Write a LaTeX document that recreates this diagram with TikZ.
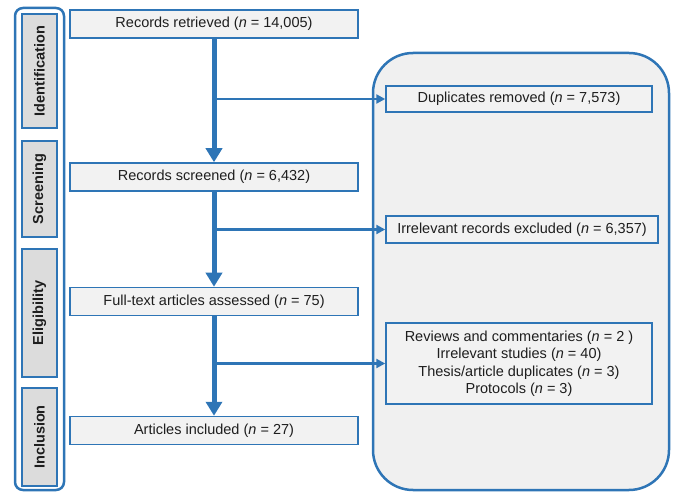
\documentclass[tikz,border=0pt]{standalone}
\usepackage{fontspec}
\setmainfont{Liberation Sans}
\usetikzlibrary{arrows.meta}
\definecolor{pblue}{RGB}{46,117,182}
\definecolor{boxfill}{RGB}{242,242,242}
\definecolor{phasefill}{RGB}{220,220,220}
\definecolor{bigfill}{RGB}{240,240,240}
\definecolor{txt}{RGB}{30,30,30}
\newcommand\nn{\textit{n}}
\begin{document}
\begin{tikzpicture}[x=1pt,y=-1pt,
  font=\fontsize{14.5}{17.5}\selectfont, text=txt,
  mainbox/.style={draw=pblue, line width=1.5pt, fill=boxfill, minimum width=288pt, minimum height=28pt, inner sep=0pt},
  sidebox/.style={draw=pblue, line width=1.5pt, fill=boxfill, minimum height=26pt, inner sep=0pt},
  phasebox/.style={draw=pblue, line width=1.5pt, fill=phasefill, rotate=90, minimum height=35pt, inner sep=0pt, font=\fontsize{14.5}{17.5}\selectfont\bfseries},
  flow/.style={draw=pblue, line width=5pt, -{Triangle[width=16pt,length=14pt]}},
  branch/.style={draw=pblue, line width=2.5pt, -{Triangle[width=9pt,length=9pt]}}
]
\useasboundingbox (0,0) rectangle (673,492);
% outer containers
\draw[pblue, line width=2.5pt, rounded corners=8pt] (15,8) rectangle (64,490);
\draw[pblue, line width=2.5pt, fill=bigfill, rounded corners=40pt] (373,53) rectangle (669,490);
% phase labels
\node[phasebox, minimum width=114pt] (pid) at (39.5,71) {Identification};
\node[phasebox, minimum width=96pt] (psc) at (39.5,189) {Screening};
\node[phasebox, minimum width=128pt] (pel) at (39.5,313) {Eligibility};
\node[phasebox, minimum width=98pt] (pin) at (39.5,437) {Inclusion};
% main flow
\node[mainbox] (ret) at (214,24) {Records retrieved (\nn{} = 14,005)};
\node[mainbox] (scr) at (214,177) {Records screened (\nn{} = 6,432)};
\node[mainbox] (ful) at (214,301.5) {Full-text articles assessed (\nn{} = 75)};
\node[mainbox] (inc) at (214,430.5) {Articles included (\nn{} = 27)};
% side boxes
\node[sidebox, minimum width=266pt] (dup) at (519,99) {Duplicates removed (\nn{} = 7,573)};
\node[sidebox, minimum width=272pt, minimum height=27pt] (irr) at (522,229.5) {Irrelevant records excluded (\nn{} = 6,357)};
\node[sidebox, minimum width=266pt, minimum height=81pt, align=center] (rev) at (519,363.5) {Reviews and commentaries (\nn{} = 2 )\\Irrelevant studies (\nn{} = 40)\\Thesis/article duplicates (\nn{} = 3)\\Protocols (\nn{} = 3)};
% arrows
\draw[flow] (ret.south) -- (scr.north);
\draw[flow] (scr.south) -- (ful.north);
\draw[flow] (ful.south) -- (inc.north);
\draw[branch] (ret.south |- dup.west) -- (dup.west);
\draw[branch] (scr.south |- irr.west) -- (irr.west);
\draw[branch] (ful.south |- rev.west) -- (rev.west);
\end{tikzpicture}
\end{document}
